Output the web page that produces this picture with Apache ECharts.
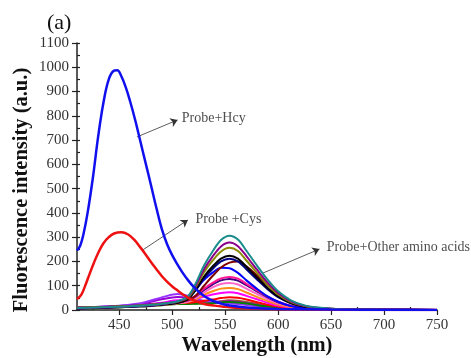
<!DOCTYPE html>
<html>
<head>
<meta charset="utf-8">
<script src="https://cdn.jsdelivr.net/npm/echarts@6/dist/echarts.min.js"></script>
<style>html,body{margin:0;padding:0;background:#fff}#c{width:471px;height:358px}</style>
</head>
<body>
<div id="c"></div>
<script>
// ---------- data ----------
const xLabelValues = [450, 500, 550, 600, 650, 700, 750];
const xMinorTicks = [425, 475, 525, 575, 625, 675, 725];
const yLabelValues = [0,100,200,300,400,500,600,700,800,900,1000,1100];

const hcyWl  = [410,413,416,420,425,430,435,440,445,448,452,456,460,465,470,475,480,485,490,495,500,505,510,515,520,525,530,535,540,545,550,560,570,580,600,650,750];
const hcyVal = [245,265,310,400,545,715,855,950,986,988,962,918,862,782,692,602,512,420,335,272,225,187,152,122,96,75,58,45,35,28,22,15,10,7,4,2,0];

const cysWl  = [410,414,418,422,426,430,435,440,445,452,458,464,470,475,480,485,490,495,500,505,510,515,520,530,540,550,560,580,600,650,750];
const cysVal = [45,62,103,150,195,235,275,300,315,320,312,290,257,228,197,168,140,117,97,80,64,50,40,25,18,13,9,5,3,1,0];

const clusterWl = [410,440,470,490,505,515,522,530,538,546,554,562,570,580,590,600,612,625,640,660,700,750];
const tealVal    = [8,12,18,25,36,58,108,183,241,288,306,290,244,183,125,77,40,19,9,3,1,0];
const purpleVal  = [7,11,17,24,35,55,100,168,220,262,278,263,222,166,113,70,36,17,8,3,1,0];
const oliveVal   = [9,13,19,26,34,52,94,156,203,241,256,243,204,153,104,64,33,16,7,3,1,0];
const blackVal   = [6,10,16,22,30,47,83,138,179,212,224,212,178,134,91,56,29,14,6,2,1,0];
const navyVal    = [7,11,17,24,32,48,81,131,169,200,211,200,168,126,86,53,28,13,6,2,1,0];
const maroonVal  = [8,12,18,24,30,42,59,100,140,175,195,200,180,143,103,66,36,17,7,3,1,0];
const blue2Val   = [6,10,15,22,30,47,83,124,154,174,172,153,122,87,56,34,16,8,4,2,1,0];
const hotpinkVal = [8,12,18,25,32,40,58,88,112,130,136,129,108,81,55,34,18,9,4,2,1,0];
const indigoVal  = [10,14,20,27,33,40,56,83,105,122,128,121,102,77,52,32,17,8,4,2,1,0];
const pinkVal    = [7,11,16,22,28,35,49,72,93,107,111,105,88,66,45,28,15,7,3,1,0,0];
const orangeVal  = [6,10,15,21,27,33,44,62,77,88,91,86,72,54,37,23,12,6,3,1,0,0];
const magentaVal = [9,13,20,30,40,40,45,55,64,70,73,69,58,44,30,18,10,5,2,1,0,0];
const redVal     = [7,11,17,24,30,30,33,38,43,49,53,50,43,32,22,14,7,4,2,1,0,0];
const greenVal   = [6,9,14,20,25,25,26,27,28,31,33,31,27,20,14,9,5,2,1,0,0,0];
const violetVal  = [8,14,28,52,66,58,45,38,32,30,28,25,20,15,10,6,3,2,1,0,0,0];
const purple2Val = [9,14,25,44,54,50,42,36,34,34,36,33,28,21,14,9,5,2,1,0,0,0];
const brownVal   = [10,13,18,24,28,28,27,28,30,36,40,38,33,25,17,11,6,3,1,0,0,0];

// annotations in data coordinates: arrow start, arrow end, text anchor
const annotations = [
  {text: 'Probe+Hcy', from: [466.6, 713], to: [505, 783], at: [508, 790]},
  {text: 'Probe +Cys', from: [472, 247], to: [514.7, 371], at: [521, 372]},
  {text: 'Probe+Other amino acids', from: [585.5, 152], to: [639, 251], at: [645, 258]}
];

// ---------- build ----------
const zip = (xs, ys) => xs.map((x, i) => [x, ys[i]]);
const clusterDefs = [
  ['#a0522d', brownVal], ['#9400d3', purple2Val], ['#9933ff', violetVal],
  ['#008000', greenVal], ['#ff0000', redVal], ['#ff00ff', magentaVal],
  ['#ff8c1a', orangeVal], ['#ff66cc', pinkVal], ['#3d0080', indigoVal],
  ['#ff1493', hotpinkVal], ['#0000ff', blue2Val], ['#800000', maroonVal],
  ['#000080', navyVal], ['#000000', blackVal], ['#8b8b00', oliveVal],
  ['#8b008b', purpleVal], ['#1a8c8c', tealVal]
];

const series = clusterDefs.map(([c, v]) => ({
  type: 'line', data: zip(clusterWl, v), showSymbol: false, smooth: 0.3,
  lineStyle: {color: c, width: 2}, silent: true
}));
series.push({type: 'line', data: zip(cysWl, cysVal), showSymbol: false, smooth: 0.4,
  lineStyle: {color: '#ee1111', width: 2.5}, silent: true});
series.push({type: 'line', data: zip(hcyWl, hcyVal), showSymbol: false, smooth: 0.4,
  lineStyle: {color: '#1010ee', width: 2.5}, silent: true});
series.push({
  type: 'lines', coordinateSystem: 'cartesian2d', silent: true,
  data: annotations.map(a => ({coords: [a.from, a.to]})),
  lineStyle: {color: '#333', width: 0.8, opacity: 1},
  symbol: ['none', 'arrow'], symbolSize: [0, 7]
});
series.push({
  type: 'scatter', symbolSize: 2, silent: true, itemStyle: {color: 'rgba(0,0,0,0)'},
  data: annotations.map(a => ({value: a.at, name: a.text})),
  label: {show: true, position: 'right', distance: 0, formatter: '{b}',
    fontFamily: 'Liberation Serif', fontSize: 14, color: '#222'},
  z: 10
});

const axisFont = {fontFamily: 'Liberation Serif', fontSize: 15, color: '#333'};
const chart = echarts.init(document.getElementById('c'));
chart.setOption({
  animation: false,
  backgroundColor: '#fff',
  grid: {left: 77, right: 34, top: 43, bottom: 48},
  xAxis: [{
    type: 'value', min: 410, max: 750,
    axisLine: {lineStyle: {color: '#222', width: 1.5}},
    axisTick: {show: true, length: 5, customValues: xLabelValues, lineStyle: {color: '#222', width: 1.2}},
    axisLabel: {customValues: xLabelValues, margin: 8, formatter: v => String(v), ...axisFont},
    splitLine: {show: false}
  }, {
    type: 'value', min: 410, max: 750, position: 'bottom',
    axisLine: {show: false},
    axisTick: {show: true, inside: true, length: 3, customValues: xMinorTicks, lineStyle: {color: '#222', width: 1.2}},
    axisLabel: {show: false},
    splitLine: {show: false}
  }],
  yAxis: [{
    type: 'value', min: 0, max: 1100, interval: 100,
    axisLine: {show: true, lineStyle: {color: '#222', width: 1.5}},
    axisTick: {show: true, length: 5, lineStyle: {color: '#222', width: 1.2}},
    axisLabel: {margin: 8, formatter: v => String(v), ...axisFont},
    splitLine: {show: false}
  }, {
    type: 'value', min: 0, max: 1100, interval: 50, position: 'left',
    axisLine: {show: false},
    axisTick: {show: true, inside: true, length: 3, lineStyle: {color: '#222', width: 1.2}},
    axisLabel: {show: false},
    splitLine: {show: false}
  }],
  graphic: [
    {type: 'text', left: 47, top: 12, style: {text: '(a)', fontFamily: 'Liberation Serif', fontSize: 22, fill: '#111'}},
    {type: 'text', x: 22, y: 190, rotation: Math.PI / 2, style: {text: 'Fluorescence intensity (a.u.)',
      fontFamily: 'Liberation Serif', fontWeight: 'bold', fontSize: 20.5, fill: '#111', align: 'center', verticalAlign: 'middle'}},
    {type: 'text', x: 257, y: 346, style: {text: 'Wavelength (nm)',
      fontFamily: 'Liberation Serif', fontWeight: 'bold', fontSize: 20.5, fill: '#111', align: 'center', verticalAlign: 'middle'}}
  ],
  series: series
});
</script>
</body>
</html>
